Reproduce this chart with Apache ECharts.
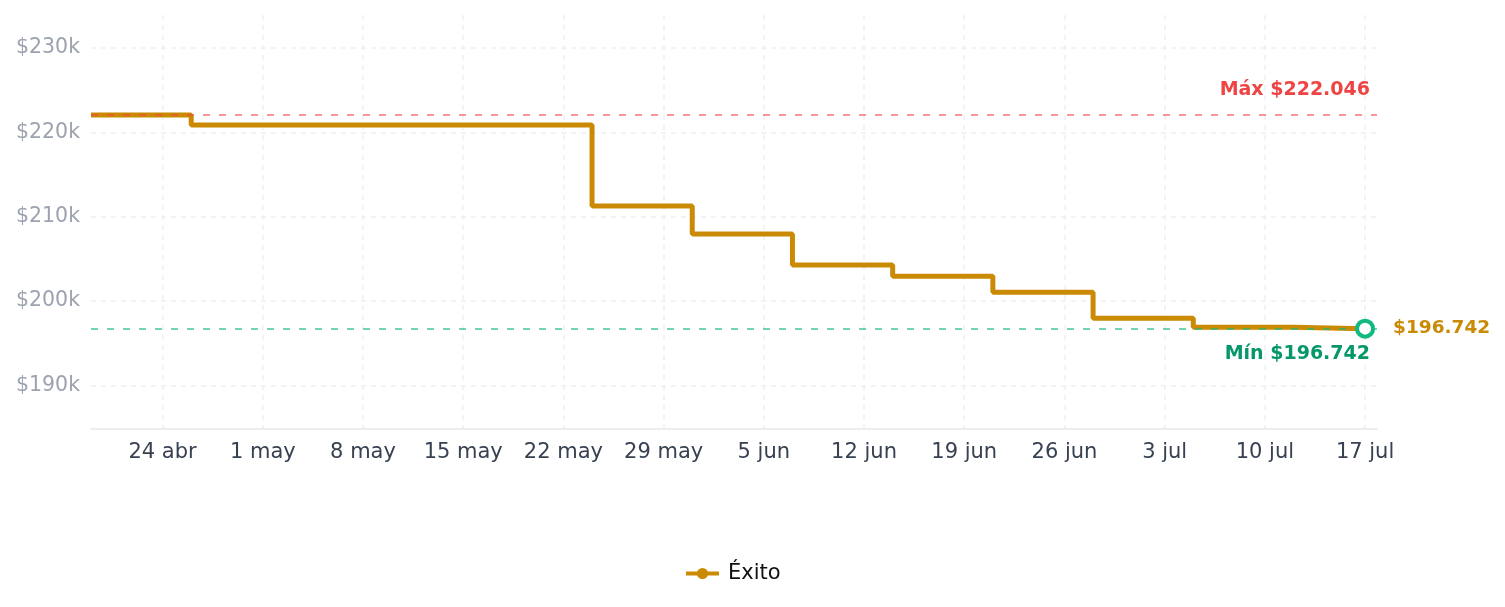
<!DOCTYPE html>
<html>
<head>
<meta charset="UTF-8">
<title>Éxito</title>
<script src="https://cdn.jsdelivr.net/npm/echarts@6/dist/echarts.min.js"></script>
<style>
	html, body { margin: 0; padding: 0; background: #fff; }
	#main { width: 1505px; height: 607px; }
</style>
</head>
<body>
	<div id="main"></div>
<script type="text/javascript">
	// datos
	var fechas = ['2025-04-19', '2025-04-26', '2025-05-24', '2025-05-31', '2025-06-07', '2025-06-14',
		'2025-06-21', '2025-06-28', '2025-07-05', '2025-07-12', '2025-07-17'];
	var precios = [222046, 220870, 211260, 207940, 204270, 202960, 201060, 197980, 196900, 196742, 196742];
	var etiquetasX = ['2025-04-24', '2025-05-01', '2025-05-08', '2025-05-15', '2025-05-22', '2025-05-29',
		'2025-06-05', '2025-06-12', '2025-06-19', '2025-06-26', '2025-07-03', '2025-07-10', '2025-07-17'];
	var ticksY = [190000, 200000, 210000, 220000, 230000];
	var precioMax = 222046;
	var precioMin = 196742;

	var meses = ['ene', 'feb', 'mar', 'abr', 'may', 'jun', 'jul', 'ago', 'sep', 'oct', 'nov', 'dic'];

	function ts(s) {
		var p = s.split('-');
		return new Date(+p[0], +p[1] - 1, +p[2]).getTime();
	}
	function fmtPrecio(v) {
		return '$' + String(v).replace(/\B(?=(\d{3})+(?!\d))/g, '.');
	}

	var serie = [];
	for (var i = 0; i < fechas.length; i++) {
		serie.push([ts(fechas[i]), precios[i]]);
	}
	var ultimo = serie[serie.length - 1];
	var ticksX = etiquetasX.map(ts);

	var myChart = echarts.init(document.getElementById('main'));
	var fuente = 'DejaVu Sans';

	myChart.setOption({
		animation: false,
		textStyle: { fontFamily: fuente },
		grid: { left: 91, right: 128, top: 15, bottom: 178, containLabel: false },
		legend: {
			data: ['Éxito'],
			left: 679,
			bottom: 18,
			itemWidth: 33,
			itemHeight: 14,
			lineStyle: { width: 4 },
			textStyle: { fontSize: 21, color: '#111', fontFamily: fuente, padding: [0, 0, 0, 4] }
		},
		xAxis: {
			type: 'value',
			min: ts('2025-04-19'),
			max: ts('2025-07-17') + 20 * 3600 * 1000,
			axisLine: { lineStyle: { color: '#e5e7eb', width: 1.5 } },
			axisTick: { show: false, customValues: ticksX },
			axisLabel: {
				customValues: ticksX,
				color: '#374151',
				fontSize: 21,
				margin: 13,
				formatter: function (v) {
					var d = new Date(v);
					return d.getDate() + ' ' + meses[d.getMonth()];
				}
			},
			splitLine: { show: true, lineStyle: { color: '#eeeff1', type: [5, 5], width: 1.5 } }
		},
		yAxis: {
			type: 'value',
			min: 184850,
			max: 233900,
			axisLine: { show: false },
			axisTick: { show: false, customValues: ticksY },
			axisLabel: {
				customValues: ticksY,
				color: '#9ca3af',
				fontSize: 20.5,
				margin: 11,
				padding: [3, 0, 0, 0],
				formatter: function (v) { return '$' + Math.round(v / 1000) + 'k'; }
			},
			splitLine: { show: true, lineStyle: { color: '#eeeff1', type: [5, 5], width: 1.5 } }
		},
		series: [
			{
				name: 'Éxito',
				type: 'line',
				step: 'end',
				data: serie,
				symbol: 'circle',
				showSymbol: false,
				color: '#ca8a04',
				lineStyle: { width: 5, color: '#ca8a04' },
				markLine: {
					silent: true,
					symbol: 'none',
					data: [
						{
							yAxis: precioMax,
							lineStyle: { color: '#ef4444', opacity: 0.75, type: [7, 9], width: 1.5 },
							label: {
								formatter: 'Máx ' + fmtPrecio(precioMax),
								position: 'insideEndTop',
								color: '#ef4444',
								opacity: 1,
								fontWeight: 'bold',
								fontSize: 19,
								distance: [7, 15]
							}
						},
						{
							yAxis: precioMin,
							lineStyle: { color: '#10b981', opacity: 0.8, type: [7, 9], width: 1.5 },
							label: {
								formatter: 'Mín ' + fmtPrecio(precioMin),
								position: 'insideEndBottom',
								color: '#059669',
								opacity: 1,
								fontWeight: 'bold',
								fontSize: 19,
								distance: [7, 16]
							}
						}
					]
				}
			},
			{
				name: 'último',
				type: 'scatter',
				data: [ultimo],
				symbol: 'circle',
				symbolSize: 16,
				z: 5,
				itemStyle: { color: '#fff', borderColor: '#10b981', borderWidth: 4, opacity: 1 },
				label: {
					show: true,
					position: 'right',
					distance: 18,
					opacity: 1,
					formatter: function () { return fmtPrecio(ultimo[1]); },
					color: '#ca8a04',
					fontWeight: 'bold',
					fontSize: 18.5
				}
			}
		]
	});
</script>
</body>
</html>
